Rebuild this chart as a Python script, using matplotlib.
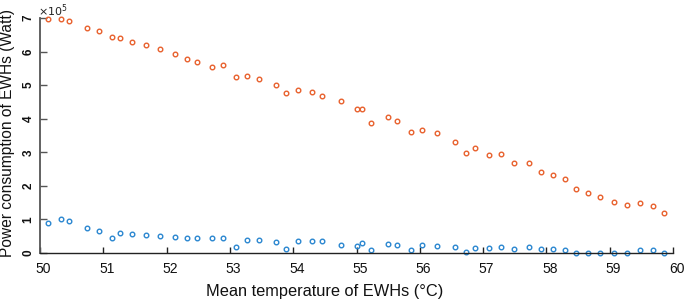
import matplotlib
matplotlib.use('Agg')
import matplotlib.pyplot as plt
import matplotlib.transforms as mtransforms

plt.rcParams['font.family'] = ['Liberation Sans', 'DejaVu Sans']

temps = [50.12, 50.33, 50.46, 50.74, 50.93, 51.13, 51.27, 51.46, 51.67, 51.89,
         52.13, 52.32, 52.48, 52.71, 52.89, 53.10, 53.27, 53.46, 53.73, 53.88,
         54.08, 54.30, 54.46, 54.75, 55.00, 55.08, 55.23, 55.49, 55.64, 55.86,
         56.03, 56.27, 56.55, 56.73, 56.87, 57.10, 57.28, 57.49, 57.72, 57.91,
         58.11, 58.29, 58.47, 58.66, 58.84, 59.07, 59.27, 59.48, 59.69, 59.86]

power_high = [6.97, 6.98, 6.91, 6.71, 6.61, 6.43, 6.41, 6.29, 6.21, 6.07,
              5.94, 5.78, 5.70, 5.55, 5.59, 5.24, 5.27, 5.18, 4.99, 4.76,
              4.87, 4.79, 4.68, 4.53, 4.28, 4.30, 3.88, 4.05, 3.92, 3.59,
              3.67, 3.56, 3.31, 2.99, 3.13, 2.93, 2.95, 2.68, 2.67, 2.41,
              2.33, 2.20, 1.92, 1.80, 1.67, 1.53, 1.42, 1.50, 1.40, 1.19]

power_low = [0.90, 1.01, 0.94, 0.74, 0.65, 0.44, 0.59, 0.57, 0.55, 0.51,
             0.49, 0.46, 0.46, 0.44, 0.46, 0.19, 0.38, 0.38, 0.34, 0.13,
             0.37, 0.35, 0.35, 0.25, 0.20, 0.29, 0.08, 0.27, 0.25, 0.10,
             0.23, 0.21, 0.17, 0.04, 0.15, 0.15, 0.19, 0.13, 0.17, 0.11,
             0.11, 0.10, 0.01, 0.01, 0.01, 0.01, 0.01, 0.10, 0.10, 0.00]

fig = plt.figure(figsize=(6.85, 3.01), dpi=100)
ax = fig.add_axes([40/685, 48/301, 633/685, 235/301])

ax.plot(temps, power_high, 'o', mfc='none', mec='#E8602C', ms=3.3, mew=1.0, clip_on=False)
ax.plot(temps, power_low, 'o', mfc='none', mec='#2A86D0', ms=3.3, mew=1.0, clip_on=False)

ax.set_xlim(50, 60)
ax.set_ylim(0, 7)
ax.set_xticks(range(50, 61))
ax.set_yticks(range(0, 8))

ax.spines['top'].set_visible(False)
ax.spines['right'].set_visible(False)
ax.spines['left'].set_color('#555555')
ax.spines['left'].set_linewidth(1.3)
ax.spines['bottom'].set_color('#222222')
ax.spines['bottom'].set_linewidth(1.0)

ax.tick_params(axis='x', direction='in', length=4.5, width=1, colors='#222222',
               labelsize=10, labelcolor='#111111', pad=6.5)
ax.tick_params(axis='y', direction='in', length=5, width=1, colors='#555555',
               labelsize=8.5, labelcolor='#111111', pad=4)
shift = mtransforms.ScaledTranslation(3.5/100, 0, fig.dpi_scale_trans)
for lab in ax.get_xticklabels():
    lab.set_transform(lab.get_transform() + shift)
for lab in ax.get_yticklabels():
    lab.set_rotation(90)
    lab.set_va('center')
    lab.set_weight('bold')

fig.text(38/685, 1 - 2/301, r'$\times10^5$', fontsize=8, ha='left', va='top',
         color='#222222')

fig.text(324.5/685, 1 - 291.5/301, 'Mean temperature of EWHs (°C)',
         fontsize=11.8, ha='center', va='center', color='#111111')
fig.text(7.5/685, 1 - 133/301, 'Power consumption of EWHs (Watt)',
         fontsize=11.2, ha='center', va='center', rotation=90, color='#111111')

fig.savefig('out.png', dpi=100)
